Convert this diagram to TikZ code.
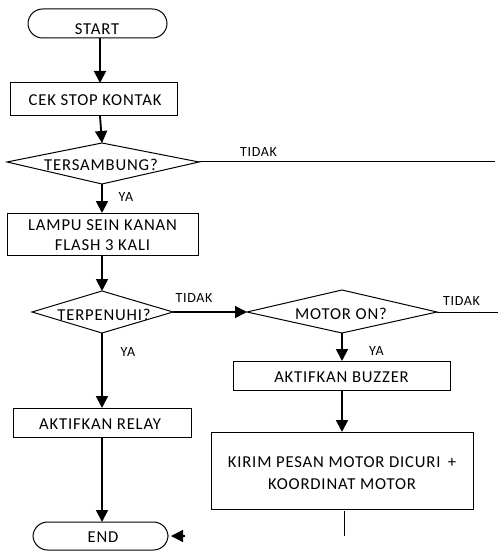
\documentclass[tikz,border=0pt]{standalone}
\usepackage{fontspec}
\setmainfont{Carlito}[LetterSpace=5]
\usetikzlibrary{shapes.geometric,arrows.meta}
\begin{document}
\begin{tikzpicture}[x=0.75pt,y=-0.75pt,
  every node/.style={font=\fontsize{12.5}{15}\selectfont, inner sep=0pt},
  term/.style={draw, rounded corners=11pt, line width=0.75pt},
  proc/.style={draw, line width=0.75pt},
  lbl/.style={font=\fontsize{10.5}{12}\selectfont},
  flow/.style={line width=1.4pt, -{Triangle[length=9pt,width=9pt]}},
  plain/.style={line width=0.75pt}]
\useasboundingbox (0,0) rectangle (498,552);
% shapes
\draw[term] (28,9) rectangle (167,38);
\node (start) at (97,29.5) {START};
\coordinate (startS) at (100,38);
\draw[proc] (10,83) rectangle (177,116);
\node (cek) at (95,100.5) {CEK STOP KONTAK};
\coordinate (cekN) at (100,83);
\coordinate (cekS) at (100,116);
\draw[proc] (7,162) -- (102,143) -- (199,162) -- (102,184) -- cycle;
\node (tsb) at (101,165) {TERSAMBUNG?};
\coordinate (tsbN) at (102,143);
\coordinate (tsbS) at (102,184);
\coordinate (tsbE) at (199,162);
\coordinate (tsbEnd) at (495,162);
\draw[proc] (7,213) rectangle (198,255);
\node[align=center] (lampu) at (102.5,235) {LAMPU SEIN KANAN\\FLASH 3 KALI};
\coordinate (lampuN) at (102,213);
\coordinate (lampuS) at (102,255);
\draw[proc] (32,312) -- (102,291) -- (173,312) -- (102,333) -- cycle;
\node (tp) at (104,314.5) {TERPENUHI?};
\coordinate (tpN) at (102,291);
\coordinate (tpS) at (102,333);
\coordinate (tpE) at (173,312);
\draw[proc] (247,312) -- (342,290) -- (437,312) -- (342,333) -- cycle;
\node (mot) at (341,313.5) {MOTOR ON?};
\coordinate (motW) at (247,312);
\coordinate (motS) at (342,333);
\coordinate (motE) at (437,312);
\coordinate (motEnd) at (498,312);
\draw[proc] (233,361) rectangle (450,390);
\node (buz) at (341.5,377.5) {AKTIFKAN BUZZER};
\coordinate (buzN) at (342,361);
\coordinate (buzS) at (342,390);
\draw[proc] (211,432) rectangle (473,509);
\node[align=center, font=\fontsize{12.5}{16}\selectfont] (kirim) at (342,473) {KIRIM PESAN MOTOR DICURI \,+\\KOORDINAT MOTOR};
\coordinate (kirimN) at (342,432);
\coordinate (kirimS) at (344,511);
\coordinate (kirimEnd) at (344,536);
\draw[proc] (13,408) rectangle (191,437);
\node (relay) at (100,424) {AKTIFKAN RELAY};
\coordinate (relayN) at (102,408);
\coordinate (relayS) at (102,437);
\draw[term] (33,522) rectangle (168,550);
\node (end) at (103,537.5) {END};
\coordinate (endN) at (102,522);
\coordinate (endE) at (171,536);
\coordinate (endTip) at (185,536);
% connectors
\draw[flow] (startS) -- (cekN);
\draw[flow] (cekS) -- (tsbN);
\draw[plain] (tsbE) -- (tsbEnd);
\node[lbl] (t1) at (258.5,152.5) {TIDAK};
\draw[flow] (tsbS) -- (lampuN);
\node[lbl] (y1) at (126,197) {YA};
\draw[flow] (lampuS) -- (tpN);
\draw[line width=1pt, -{Triangle[length=9pt,width=9pt]}] (tpE) -- (motW);
\node[lbl] (t2) at (194,298.5) {TIDAK};
\draw[plain] (motE) -- (motEnd);
\node[lbl] (t3) at (461.5,301) {TIDAK};
\draw[flow] (motS) -- (buzN);
\node[lbl] (y2) at (376.5,351.5) {YA};
\draw[flow] (buzS) -- (kirimN);
\draw[plain] (kirimS) -- (kirimEnd);
\draw[flow] (tpS) -- (relayN);
\node[lbl] (y3) at (128,352) {YA};
\draw[flow] (relayS) -- (endN);
\draw[line width=1pt, -{Triangle[length=9pt,width=9pt]}] (endTip) -- (endE);
\end{tikzpicture}
\end{document}
